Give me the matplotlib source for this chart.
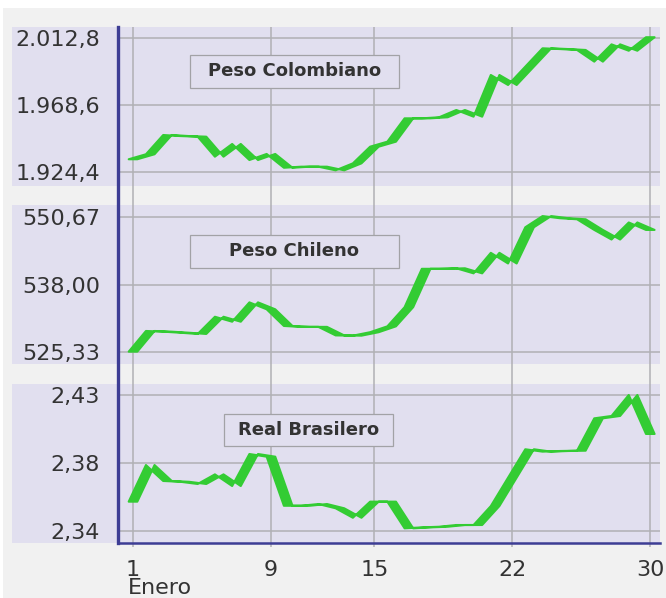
import numpy as np
import matplotlib
matplotlib.use("Agg")
import matplotlib.pyplot as plt
from matplotlib.patches import Rectangle

# ---------------- data ----------------
x_labels = ["1", "9", "15", "22", "30"]
x_label_idx = [0, 8, 14, 22, 30]
month_label = "Enero"

colombiano = [1933.0, 1936.3, 1949.0, 1948.3, 1947.9, 1934.7, 1943.1, 1932.5, 1936.5, 1927.4,
              1928.1, 1928.1, 1925.7, 1930.3, 1941.3, 1944.6, 1960.0, 1960.0, 1960.7, 1965.5,
              1961.1, 1988.6, 1982.0, 1994.1, 2006.2, 2005.7, 2005.1, 1997.4, 2008.8, 2004.6,
              2013.5]
chileno = [525.45, 529.33, 529.2, 529.0, 528.77, 532.0, 531.07, 534.7, 533.4, 530.27,
           530.1, 530.1, 528.5, 528.45, 529.1, 530.2, 533.8, 541.0, 541.0, 541.1,
           540.15, 544.0, 542.0, 548.8, 550.9, 550.5, 550.3, 548.3, 546.5, 549.7,
           548.3]
real = [2.3596, 2.3828, 2.3727, 2.3722, 2.3708, 2.3769, 2.3695, 2.3898, 2.3881, 2.3570,
        2.3570, 2.3581, 2.3554, 2.3494, 2.3596, 2.3596, 2.3427, 2.3433, 2.3437, 2.3448,
        2.3448, 2.3568, 2.3748, 2.3928, 2.3913, 2.3917, 2.3919, 2.4124, 2.4139, 2.4272,
        2.4025]

titles = ["Peso Colombiano", "Peso Chileno", "Real Brasilero"]
series = [colombiano, chileno, real]
y_tick_vals = [[1924.4, 1968.6, 2012.8], [525.33, 538.00, 550.67], [2.341, 2.384, 2.427]]
y_tick_labels = [["1.924,4", "1.968,6", "2.012,8"], ["525,33", "538,00", "550,67"],
                 ["2,34", "2,38", "2,43"]]
y_limits = [(1915.36, 2020.25), (523.13, 552.98), (2.33340, 2.43416)]

# ---------------- style ----------------
W, H = 666, 598
BG = "#f1f1f1"
LAV = "#e1dfef"
GRID = "#b0b0b4"
BLUE = "#3d3d94"
GREEN = "#33cc33"
TXT = "#333333"
plt.rcParams["font.family"] = ["DejaVu Sans"]

fig = plt.figure(figsize=(W / 100, H / 100), dpi=100, facecolor="white")

def fx(px):
    return px / W

def fy(py):
    return 1 - py / H

# light gray page
fig.patches.append(Rectangle((fx(3), 0), 1 - fx(3), fy(8), transform=fig.transFigure,
                             facecolor=BG, edgecolor="none", zorder=-3))

AX_L, AX_R = 118, 660
panels_px = [(27, 186), (205, 364), (384, 543)]
boxes_px = [(190, 398.7, 55, 87.7), (190, 398.7, 235, 267.7), (224, 393, 414, 446)]

# lavender bands (including the tick-label area)
for (t, b) in panels_px:
    fig.patches.append(Rectangle((fx(12), fy(b)), fx(660) - fx(12), fy(t) - fy(b),
                                 transform=fig.transFigure, facecolor=LAV,
                                 edgecolor="none", zorder=-2))

xlim = (-0.87, 30.5625)
xs = np.arange(len(colombiano))

# frame axes: vertical grid and x tick labels
frame = fig.add_axes([fx(AX_L), fy(543), fx(AX_R) - fx(AX_L), fy(27) - fy(543)], zorder=0)
frame.patch.set_visible(False)
frame.set_xlim(*xlim)
frame.set_ylim(0, 1)
for s in frame.spines.values():
    s.set_visible(False)
frame.set_yticks([])
frame.set_xticks(x_label_idx)
frame.set_xticklabels(x_labels, fontsize=16, color=TXT)
frame.tick_params(axis="x", length=3, color=GRID, width=1.1, pad=9)
frame.grid(axis="x", color=GRID, linewidth=1.1)
fig.text(fx(128), fy(578), month_label, fontsize=16, color=TXT, ha="left", va="top")

d = 4.3 / 17.243  # horizontal half-width of the ribbon (data units)
for i, ((t, b), vals) in enumerate(zip(panels_px, series)):
    ax = fig.add_axes([fx(AX_L), fy(b), fx(AX_R) - fx(AX_L), fy(t) - fy(b)], zorder=1)
    ax.patch.set_visible(False)
    for s in ax.spines.values():
        s.set_visible(False)
    ax.set_xlim(*xlim)
    ax.set_ylim(*y_limits[i])
    ax.set_xticks([])
    ax.set_yticks(y_tick_vals[i])
    ax.set_yticklabels(y_tick_labels[i], fontsize=16, color=TXT)
    ax.tick_params(axis="y", length=0, pad=13)
    ax.grid(axis="y", color=GRID, linewidth=1.1)
    v = np.asarray(vals)
    px_ = np.concatenate([xs - d, (xs + d)[::-1]])
    py_ = np.concatenate([v, v[::-1]])
    ax.fill(px_, py_, facecolor=GREEN, edgecolor=GREEN, linewidth=1.5,
            joinstyle="round", zorder=3)
    # title box
    x0, x1, yt, yb = boxes_px[i]
    ax0 = (x0 - AX_L) / (AX_R - AX_L)
    ax1 = (x1 - AX_L) / (AX_R - AX_L)
    ay0 = 1 - (yb - t) / (b - t)
    ay1 = 1 - (yt - t) / (b - t)
    ax.add_patch(Rectangle((ax0, ay0), ax1 - ax0, ay1 - ay0, transform=ax.transAxes,
                           facecolor=LAV, edgecolor="#a2a2a6", linewidth=0.9,
                           zorder=4))
    ax.text((ax0 + ax1) / 2, (ay0 + ay1) / 2, titles[i], transform=ax.transAxes,
            ha="center", va="center", fontsize=13, fontweight="bold", color=TXT, zorder=5)

# overlay axes for the blue axis lines
ov = fig.add_axes([fx(AX_L), fy(543), fx(AX_R) - fx(AX_L), fy(27) - fy(543)], zorder=2)
ov.patch.set_visible(False)
ov.set_xticks([])
ov.set_yticks([])
ov.spines["top"].set_visible(False)
ov.spines["right"].set_visible(False)
ov.spines["left"].set_color(BLUE)
ov.spines["left"].set_linewidth(2.4)
ov.spines["bottom"].set_color(BLUE)
ov.spines["bottom"].set_linewidth(1.8)

fig.savefig("out.png", dpi=100, facecolor=fig.get_facecolor())
